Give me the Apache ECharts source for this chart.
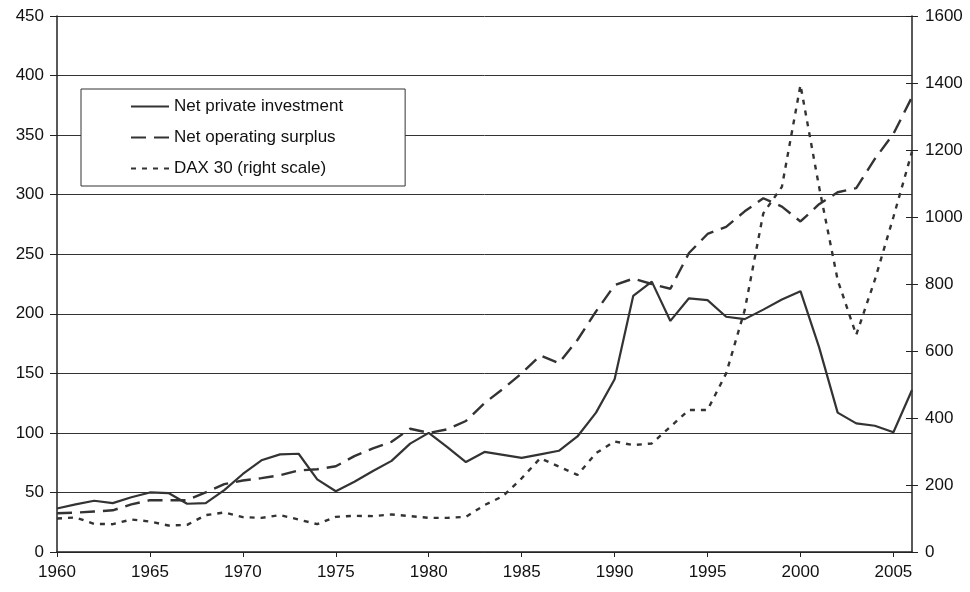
<!DOCTYPE html>
<html>
<head>
<meta charset="utf-8">
<title>Net private investment, net operating surplus and DAX 30</title>
<script src="https://cdn.jsdelivr.net/npm/echarts@6/dist/echarts.min.js"></script>
<style>
  html, body { margin: 0; padding: 0; background: #fff; }
  #chart { width: 970px; height: 592px; }
</style>
</head>
<body>
<div id="chart"></div>
<script>
// Years on the horizontal axis
const years = [];
for (let y = 1960; y <= 2006; y++) years.push(String(y));

// Net private investment (left scale)
const investment = [
  36.5, 40, 43, 41, 46, 50, 49.5, 40.5, 41, 52,
  65.5, 77, 82, 82.5, 61, 51, 59, 68, 76.5, 91,
  100, 88, 75.5, 84, 81.5, 79, 82, 85, 97, 117,
  145, 215, 227, 194, 213, 211.5, 197.5, 195.5, 203.5, 212,
  219, 172, 117, 108, 106, 100.5, 136
];

// Net operating surplus (left scale)
const surplus = [
  32.5, 33, 34, 35, 40, 43.5, 43.5, 43.5, 50, 57,
  60, 62, 64.5, 68.5, 69.5, 72, 80.5, 87, 92.5, 103.5,
  100, 103, 110, 125, 137, 150, 165, 158.5, 178, 202,
  224, 229.5, 225, 221, 251, 267, 273, 286, 297, 290,
  277.5, 292, 302, 305.5, 330, 351, 382
];

// DAX 30 index (right scale)
const dax = [
  100, 103, 84, 83, 97, 91, 79, 81, 110, 118,
  104, 102, 110, 97, 83, 105, 108, 107, 112, 107,
  102, 102, 105, 140, 167, 220, 280, 255, 230, 295,
  330, 319, 324, 374, 424, 424, 533, 722, 1011, 1090,
  1394, 1090, 812, 648, 812, 1000, 1195
];

const seriesNames = ['Net private investment', 'Net operating surplus', 'DAX 30 (right scale)'];

const FONT = 'Liberation Sans, Arial, sans-serif';
const INK = '#333';

const chart = echarts.init(document.getElementById('chart'), null, { renderer: 'canvas' });

const everyFifth = (i) => i % 5 === 0;
const plainNumber = (v) => String(v);

chart.setOption({
  animation: false,
  backgroundColor: '#fff',
  textStyle: { fontFamily: FONT },
  grid: { left: 57, right: 58, top: 16, bottom: 40, containLabel: false },
  legend: {
    data: seriesNames,
    orient: 'vertical',
    left: 81,
    top: 89,
    itemWidth: 38,
    itemHeight: 14,
    itemGap: 14,
    padding: [9, 62, 9, 49],
    backgroundColor: '#fff',
    borderColor: INK,
    borderWidth: 1,
    // keep only the line sample in each legend entry
    itemStyle: { opacity: 0, borderWidth: 0 },
    textStyle: { fontFamily: FONT, fontSize: 17, color: '#111' }
  },
  xAxis: {
    type: 'category',
    data: years,
    boundaryGap: false,
    axisLine: { show: true, lineStyle: { color: '#222', width: 1.5 } },
    axisTick: { show: true, length: 5, interval: everyFifth, lineStyle: { color: '#222' } },
    axisLabel: { interval: everyFifth, fontSize: 17, color: '#111', margin: 12, fontFamily: FONT },
    splitLine: { show: false }
  },
  yAxis: [
    {
      type: 'value',
      position: 'left',
      min: 0, max: 450, interval: 50,
      axisLine: { show: true, lineStyle: { color: '#222', width: 1.5 } },
      axisTick: { show: true, length: 7, lineStyle: { color: '#222' } },
      axisLabel: { fontSize: 17, color: '#111', margin: 13, fontFamily: FONT, formatter: plainNumber },
      splitLine: { show: true, lineStyle: { color: '#333', width: 1 } }
    },
    {
      type: 'value',
      position: 'right',
      min: 0, max: 1600, interval: 200,
      axisLine: { show: true, lineStyle: { color: '#222', width: 1.5 } },
      axisTick: { show: true, length: 6, lineStyle: { color: '#222' } },
      axisLabel: { fontSize: 17, color: '#111', margin: 13, fontFamily: FONT, formatter: plainNumber },
      splitLine: { show: false }
    },
    {
      // inner half of the crossing ticks on the right scale
      type: 'value',
      position: 'right',
      min: 0, max: 1600, interval: 200,
      axisLine: { show: false },
      axisTick: { show: true, inside: true, length: 6, lineStyle: { color: '#222' } },
      axisLabel: { show: false },
      splitLine: { show: false }
    }
  ],
  series: [
    {
      name: seriesNames[0],
      type: 'line',
      yAxisIndex: 0,
      data: investment,
      symbol: 'none',
      lineStyle: { color: INK, width: 2.2, type: 'solid' },
      itemStyle: { color: INK },
      z: 4
    },
    {
      name: seriesNames[1],
      type: 'line',
      yAxisIndex: 0,
      data: surplus,
      symbol: 'none',
      lineStyle: { color: INK, width: 2.4, type: [15, 8] },
      itemStyle: { color: INK },
      z: 3
    },
    {
      name: seriesNames[2],
      type: 'line',
      yAxisIndex: 1,
      data: dax,
      symbol: 'none',
      lineStyle: { color: INK, width: 2.4, type: [5, 6] },
      itemStyle: { color: INK },
      z: 2
    }
  ]
});
</script>
</body>
</html>
